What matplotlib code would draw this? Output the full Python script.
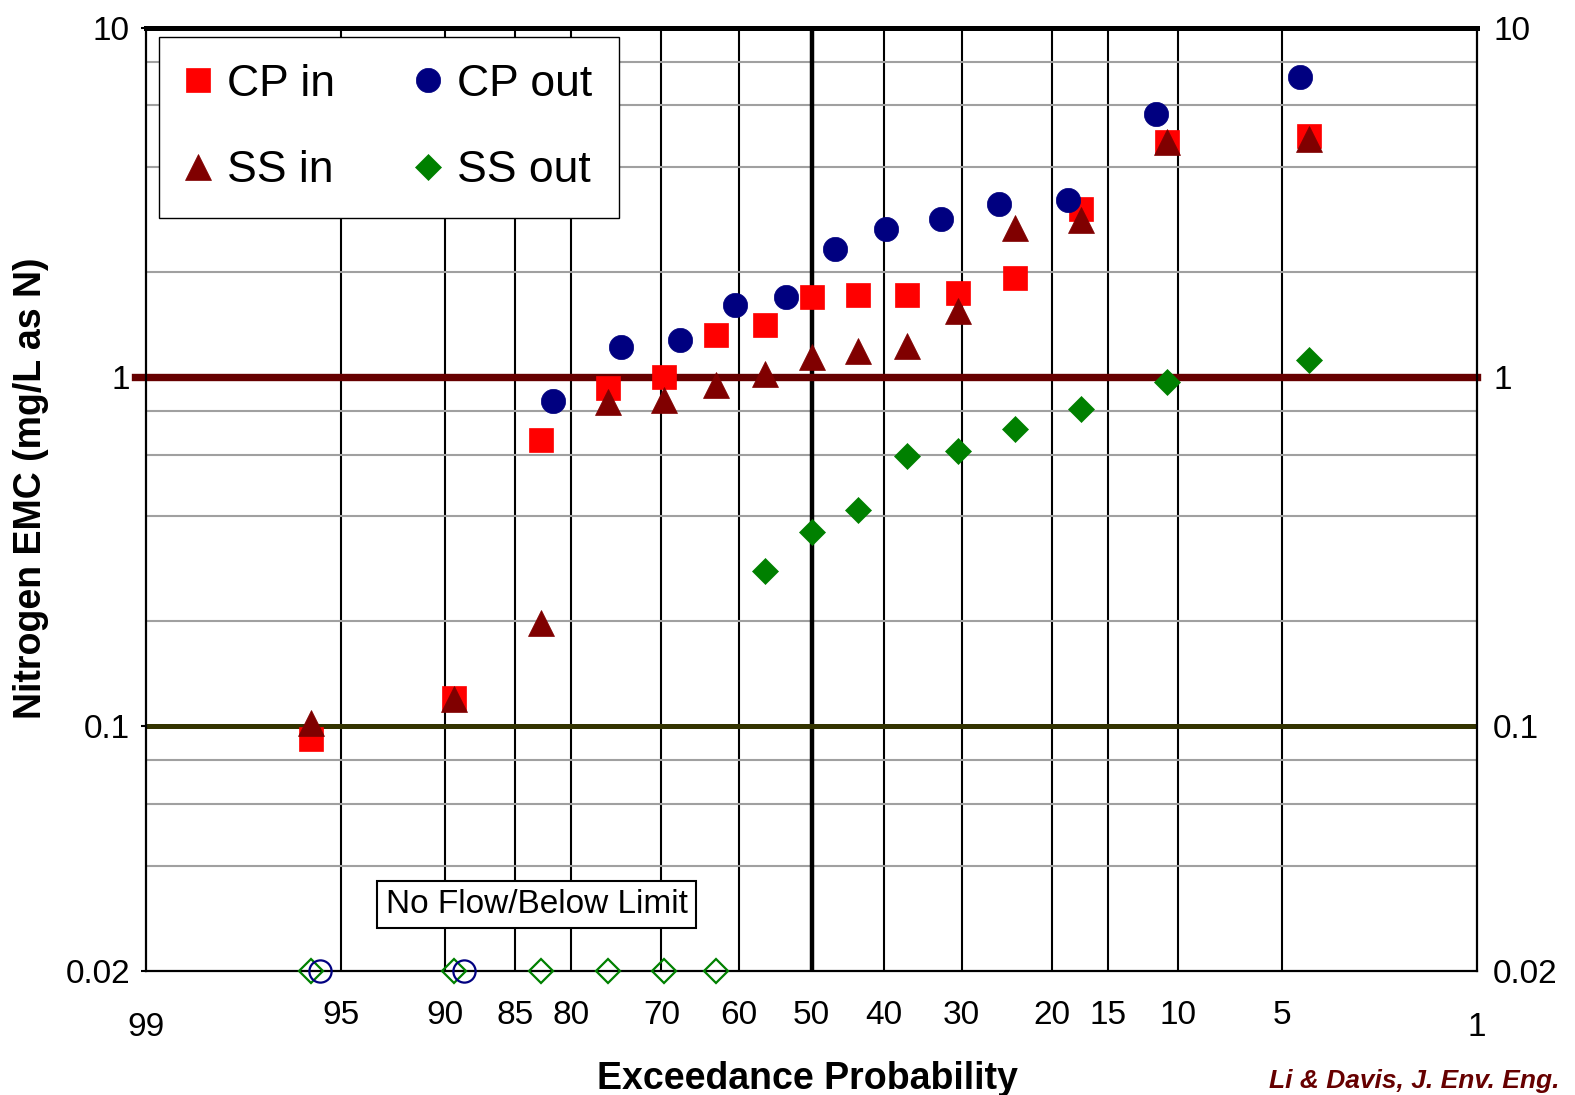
import numpy as np
import matplotlib
matplotlib.use("Agg")
import matplotlib.pyplot as plt
from matplotlib.ticker import FixedLocator, FixedFormatter, NullFormatter
from statistics import NormalDist

plt.rcParams["font.family"] = ["Liberation Sans", "DejaVu Sans"]

# ---------------------------------------------------------------- data
# exceedance probability (%) and nitrogen EMC (mg/L as N)
cp_in_p = [96.0, 89.4, 82.8, 76.2, 69.7, 63.1, 56.5, 50.0, 43.5, 36.9, 30.4, 23.8, 17.3, 10.7, 4.1]
cp_in_v = [0.092, 0.121, 0.66, 0.93, 1.0, 1.32, 1.41, 1.69, 1.72, 1.72, 1.74, 1.92, 3.02, 4.71, 4.90]

ss_in_p = [96.0, 89.4, 82.8, 76.2, 69.7, 63.1, 56.5, 50.0, 43.5, 36.9, 30.4, 23.8, 17.3, 10.7, 4.1]
ss_in_v = [0.102, 0.120, 0.198, 0.85, 0.86, 0.95, 1.02, 1.14, 1.19, 1.23, 1.55, 2.67, 2.81, 4.70, 4.79]

cp_out_p = [81.7, 74.7, 67.7, 60.6, 53.5, 46.7, 39.7, 32.6, 25.6, 18.5, 11.4, 4.4]
cp_out_v = [0.855, 1.22, 1.28, 1.61, 1.69, 2.33, 2.65, 2.83, 3.12, 3.22, 5.68, 7.23]

ss_out_p = [56.5, 50.0, 43.5, 36.9, 30.4, 23.8, 17.3, 10.7, 4.1]
ss_out_v = [0.278, 0.360, 0.416, 0.594, 0.613, 0.710, 0.808, 0.966, 1.118]

# no flow / below limit events, drawn on the axis floor
FLOOR = 0.02
cp_out_bl_p = [95.7, 88.8]
ss_out_bl_p = [96.0, 89.4, 82.8, 76.2, 69.7, 63.1]

x_major = [95, 90, 85, 80, 70, 60, 50, 40, 30, 20, 15, 10, 5]
x_edge = [99, 1]
y_major = [0.02, 0.1, 1, 10]
y_major_lab = ["0.02", "0.1", "1", "10"]
y_minor = [0.04, 0.06, 0.08, 0.2, 0.4, 0.6, 0.8, 2, 4, 6, 8]

RED, NAVY, MAROON, GREEN = "#ff0000", "#000080", "#800000", "#008000"

# ---------------------------------------------------------------- probability scale
_nd = NormalDist()
_ppf = np.vectorize(lambda q: _nd.inv_cdf(q) if 0 < q < 1 else np.nan, otypes=[float])
_cdf = np.vectorize(lambda z: _nd.cdf(z) if np.isfinite(z) else (1.0 if z > 0 else 0.0)
                    if not np.isnan(z) else np.nan, otypes=[float])

def fwd(p):
    p = np.clip(np.asarray(p, float), 1e-7, 100 - 1e-7)
    return _ppf(p / 100.0)

def inv(z):
    return _cdf(np.asarray(z, float)) * 100.0

# ---------------------------------------------------------------- figure
fig = plt.figure(figsize=(15.75, 10.95), dpi=100)
ax = fig.add_axes([0.0927, 0.1135, 0.8451, 0.8612])
ax.set_xscale("function", functions=(fwd, inv))
ax.set_yscale("log")
ax.set_xlim(99, 1)
ax.set_ylim(0.02, 10)

ax.xaxis.set_major_locator(FixedLocator(x_major))
ax.xaxis.set_major_formatter(FixedFormatter([str(v) for v in x_major]))
ax.xaxis.set_minor_locator(FixedLocator(x_edge))
ax.xaxis.set_minor_formatter(FixedFormatter([str(v) for v in x_edge]))
ax.yaxis.set_major_locator(FixedLocator(y_major))
ax.yaxis.set_major_formatter(FixedFormatter(y_major_lab))
ax.yaxis.set_minor_locator(FixedLocator(y_minor))
ax.yaxis.set_minor_formatter(NullFormatter())

ax.grid(True, axis="x", which="major", color="black", lw=1.5, zorder=1)
ax.grid(True, axis="y", which="minor", color="#a0a0a0", lw=1.5, zorder=0)
ax.set_axisbelow(True)
ax.axvline(50, color="black", lw=3.2, zorder=1.5)
ax.axhline(1, color="#660000", lw=5.3, xmin=-0.008, clip_on=False, zorder=1.6)
ax.axhline(0.1, color="#333300", lw=3.6, zorder=1.6)

for s in ["left", "bottom", "right"]:
    ax.spines[s].set_linewidth(1.6)
ax.spines["top"].set_linewidth(3.6)

ax.tick_params(axis="x", which="both", length=0, labelsize=24)
ax.tick_params(axis="x", which="major", pad=21)
ax.tick_params(axis="x", which="minor", pad=30)
ax.tick_params(axis="y", which="major", labelsize=24, length=3.6, width=1.5,
               direction="out", pad=8, left=True, right=False,
               labelleft=True, labelright=True)
ax.tick_params(axis="y", which="minor", length=0)

# ---------------------------------------------------------------- points
kw = dict(ls="none", zorder=3, mew=0.5)
h_cpin, = ax.plot(cp_in_p, cp_in_v, marker="s", ms=17.5, color=RED, label="CP in", **kw)
h_cpout, = ax.plot(cp_out_p, cp_out_v, marker="o", ms=17.5, color=NAVY, label="CP out", **kw)
h_ssin, = ax.plot(ss_in_p, ss_in_v, marker="^", ms=19, color=MAROON, label="SS in", **kw)
h_ssout, = ax.plot(ss_out_p, ss_out_v, marker="D", ms=13.5, color=GREEN, label="SS out", **kw)

ax.plot(ss_out_bl_p, [FLOOR] * len(ss_out_bl_p), ls="none", marker="D", ms=12.5,
        mfc="none", mec=GREEN, mew=1.6, clip_on=False, zorder=4)
ax.plot(cp_out_bl_p, [FLOOR] * len(cp_out_bl_p), ls="none", marker="o", ms=16,
        mfc="none", mec=NAVY, mew=1.6, clip_on=False, zorder=4)

leg = ax.legend([h_cpin, h_ssin, h_cpout, h_ssout], ["CP in", "SS in", "CP out", "SS out"],
                ncol=2, loc="upper left", bbox_to_anchor=(0.0098, 0.9898),
                borderaxespad=0, fontsize=32, frameon=True, fancybox=False,
                edgecolor="black", framealpha=1, handlelength=0.56,
                handletextpad=0.37, columnspacing=1.82, labelspacing=1.02,
                borderpad=0.6)
leg.get_frame().set_linewidth(1.0)
leg.set_zorder(5)

ax.text(0.2934, 0.0702, "No Flow/Below Limit", transform=ax.transAxes,
        ha="center", va="center", fontsize=24, zorder=5,
        bbox=dict(boxstyle="square,pad=0.25", fc="white", ec="black", lw=1.5))

ax.set_xlabel("Exceedance Probability", fontsize=27, fontweight="bold")
ax.xaxis.set_label_coords(0.4966, -0.0955)
ax.set_ylabel("Nitrogen EMC (mg/L as N)", fontsize=27, fontweight="bold")
ax.yaxis.label.set_verticalalignment("center")
ax.yaxis.set_label_coords(-0.0864, 0.512)

fig.text(0.806, 0.002, "Li & Davis, J. Env. Eng.", color="#660000",
         fontsize=19, fontweight="bold", fontstyle="italic", ha="left", va="bottom")

fig.savefig("out.png", dpi=100)
